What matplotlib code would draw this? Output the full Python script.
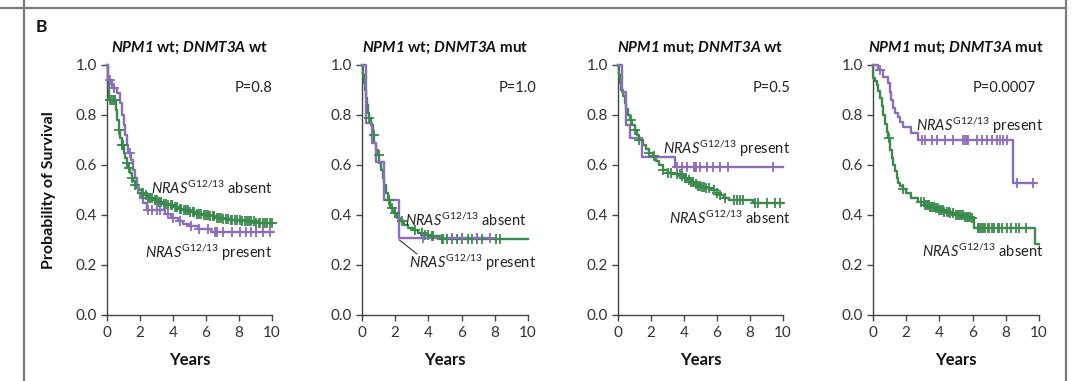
import matplotlib
matplotlib.use("Agg")
import matplotlib.pyplot as plt
from matplotlib.lines import Line2D
import numpy as np

plt.rcParams['font.family'] = ['Lato', 'DejaVu Sans']
plt.rcParams['mathtext.fontset'] = 'custom'
plt.rcParams['mathtext.rm'] = 'Lato'
plt.rcParams['mathtext.it'] = 'Lato:italic'
plt.rcParams['mathtext.bf'] = 'Lato:bold'
plt.rcParams['mathtext.bfit'] = 'Lato:italic:bold'

GREEN = '#3a8a4c'
PURPLE = '#8c6cbc'

titles = [r'$\mathbfit{NPM1}$ wt; $\mathbfit{DNMT3A}$ wt',
          r'$\mathbfit{NPM1}$ wt; $\mathbfit{DNMT3A}$ mut',
          r'$\mathbfit{NPM1}$ mut; $\mathbfit{DNMT3A}$ wt',
          r'$\mathbfit{NPM1}$ mut; $\mathbfit{DNMT3A}$ mut']
pvalues = ['P=0.8', 'P=1.0', 'P=0.5', 'P=0.0007']

# panel 1: NPM1 wt; DNMT3A wt
p1_abs_t = [0, 0.05, 0.1, 0.15, 0.55, 0.62, 0.7, 0.8, 0.9, 1.0, 1.1, 1.2, 1.3, 1.4, 1.5, 1.6, 1.7, 1.8,
            1.95, 2.1, 2.3, 2.5, 2.8, 3.1, 3.4, 3.7, 4.0, 4.3, 4.6, 5.0, 5.4, 5.8, 6.2, 6.6, 7.0, 7.5, 8.2, 9.0]
p1_abs_s = [1.0, 0.95, 0.9, 0.86, 0.82, 0.78, 0.74, 0.71, 0.68, 0.65, 0.63, 0.61, 0.59, 0.57, 0.55, 0.535, 0.52, 0.51,
            0.50, 0.49, 0.48, 0.47, 0.46, 0.452, 0.446, 0.44, 0.433, 0.426, 0.42, 0.413, 0.406, 0.40, 0.395, 0.39,
            0.385, 0.38, 0.376, 0.37]
p1_abs_c = [0.2, 0.3, 0.4, 0.5, 0.7, 0.9, 0.95, 1.2, 1.35, 1.5, 1.7, 2.1, 2.2, 2.35, 2.5, 2.6, 2.75, 2.9, 3.0,
            3.15, 3.3, 3.45, 3.55, 3.7, 3.85, 3.95, 4.1, 4.25, 4.4, 4.5, 4.65, 4.8, 4.9, 5.05, 5.2, 5.3, 5.45,
            5.6, 5.7, 5.85, 6.0, 6.1, 6.25, 6.4, 6.5, 6.65, 6.8, 6.9, 7.05, 7.2, 7.35, 7.5, 7.6, 7.75, 7.9,
            8.05, 8.2, 8.35, 8.5, 8.6, 8.75, 8.9, 9.05, 9.2, 9.3, 9.45, 9.6, 9.7, 9.85, 10.0]
p1_pre_t = [0, 0.05, 0.3, 0.6, 0.8, 0.9, 1.0, 1.1, 1.2, 1.3, 1.45, 1.6, 1.7, 1.8, 1.9, 2.0, 2.2, 2.4, 3.5,
            3.9, 4.3, 4.6, 5.0, 5.5, 6.3]
p1_pre_s = [1.0, 0.94, 0.91, 0.89, 0.85, 0.80, 0.76, 0.72, 0.68, 0.65, 0.62, 0.58, 0.55, 0.52, 0.49, 0.47,
            0.45, 0.42, 0.405, 0.39, 0.375, 0.365, 0.355, 0.345, 0.332]
p1_pre_c = [0.2, 0.45, 1.4, 2.5, 2.7, 3.0, 3.2, 3.7, 4.0, 4.4, 5.1, 5.6, 6.1, 6.55, 6.6, 6.65, 7.05, 7.55,
            8.05, 8.45, 8.75, 9.05, 9.45, 9.85]

# panel 2: NPM1 wt; DNMT3A mut
p2_abs_t = [0, 0.05, 0.1, 0.18, 0.25, 0.32, 0.38, 0.45, 0.55, 0.65, 0.75, 0.85, 0.95, 1.05, 1.15, 1.25, 1.35,
            1.45, 1.55, 1.7, 1.9, 2.1, 2.3, 2.55, 2.8, 3.1, 3.4, 3.8, 4.2, 4.7]
p2_abs_s = [1.0, 0.96, 0.93, 0.90, 0.87, 0.84, 0.81, 0.79, 0.76, 0.72, 0.69, 0.66, 0.64, 0.61, 0.58, 0.55,
            0.52, 0.49, 0.46, 0.43, 0.41, 0.39, 0.375, 0.36, 0.35, 0.34, 0.33, 0.322, 0.315, 0.305]
p2_abs_c = [0.45, 0.7, 1.0, 1.6, 1.8, 2.0, 2.4, 3.2, 3.6, 3.8, 4.0, 4.2, 4.3, 4.8, 4.9, 5.1, 5.4, 5.7, 6.0,
            6.4, 6.6, 6.9, 7.2, 8.1, 8.3]
p2_pre_t = [0, 0.24, 0.58, 0.82, 1.35, 2.2]
p2_pre_s = [1.0, 0.77, 0.69, 0.613, 0.46, 0.31]
p2_pre_c = [3.7, 5.4, 6.0, 6.9, 7.7]

# panel 3: NPM1 mut; DNMT3A wt
p3_abs_t = [0, 0.06, 0.12, 0.2, 0.3, 0.4, 0.5, 0.6, 0.7, 0.85, 1.0, 1.15, 1.3, 1.5, 1.7, 1.9, 2.1, 2.3, 2.5,
            2.7, 3.0, 3.4, 3.8, 4.0, 4.2, 4.4, 4.6, 4.8, 5.0, 5.3, 5.7, 6.0, 6.2, 6.4, 6.7, 8.2]
p3_abs_s = [1.0, 0.96, 0.93, 0.90, 0.875, 0.85, 0.825, 0.80, 0.78, 0.76, 0.74, 0.72, 0.70, 0.68, 0.665,
            0.65, 0.635, 0.615, 0.60, 0.58, 0.57, 0.565, 0.555, 0.548, 0.54, 0.533, 0.525, 0.518, 0.512,
            0.508, 0.50, 0.49, 0.48, 0.47, 0.462, 0.45]
p3_abs_c = [0.8, 1.0, 1.3, 1.9, 2.2, 2.7, 3.0, 3.2, 3.6, 3.75, 3.9, 4.05, 4.15, 4.3, 4.45, 4.55, 4.7, 4.85,
            4.95, 5.1, 5.2, 5.35, 5.5, 5.8, 6.0, 6.2, 6.5, 7.0, 7.2, 7.4, 7.6, 8.3, 8.5, 9.0, 9.5, 9.8]
p3_pre_t = [0, 0.22, 0.48, 0.73, 1.43, 3.45]
p3_pre_s = [1.0, 0.893, 0.76, 0.707, 0.633, 0.593]
p3_pre_c = [3.56, 3.86, 4.16, 4.62, 4.67, 4.72, 4.97, 5.37, 5.78, 6.18, 6.69, 9.41]

# panel 4: NPM1 mut; DNMT3A mut
p4_abs_t = [0, 0.02, 0.12, 0.22, 0.32, 0.42, 0.52, 0.62, 0.72, 0.82, 0.92, 1.02, 1.12, 1.22, 1.32, 1.42,
            1.52, 1.62, 1.8, 2.0, 2.3, 2.7, 3.1, 3.4, 3.7, 4.0, 4.3, 4.6, 4.9, 5.5, 5.9, 6.1, 9.76]
p4_abs_s = [1.0, 0.95, 0.935, 0.92, 0.895, 0.867, 0.835, 0.80, 0.765, 0.733, 0.71, 0.66, 0.63, 0.60, 0.575,
            0.547, 0.53, 0.515, 0.505, 0.49, 0.467, 0.453, 0.44, 0.433, 0.427, 0.42, 0.413, 0.407, 0.40,
            0.393, 0.387, 0.35, 0.285]
p4_abs_c = [0.95, 1.8, 2.9, 3.05, 3.15, 3.25, 3.35, 3.45, 3.55, 3.65, 3.8, 3.9, 4.0, 4.1, 4.2, 4.3, 4.45,
            4.55, 4.65, 4.8, 5.0, 5.1, 5.2, 5.3, 5.45, 5.55, 5.65, 5.75, 5.85, 5.95, 6.3, 6.4, 6.5, 6.65,
            6.75, 6.9, 7.0, 7.15, 7.3, 7.5, 7.6, 7.75, 8.1, 8.3, 8.6, 8.8, 9.2]
p4_pre_t = [0, 0.32, 0.62, 0.92, 1.0, 1.1, 1.2, 1.35, 1.5, 1.65, 1.8, 2.3, 2.7, 8.45]
p4_pre_s = [1.0, 0.98, 0.953, 0.927, 0.893, 0.86, 0.827, 0.81, 0.793, 0.773, 0.753, 0.727, 0.70, 0.527]
p4_pre_c = [0.45, 2.93, 3.13, 3.53, 3.84, 4.34, 4.84, 5.44, 5.54, 5.64, 5.74, 6.24, 6.55, 6.85, 7.15, 7.45,
            7.65, 7.85, 8.05, 8.65, 9.66]

ends_abs = [10, 10, 10, 10]
ends_pre = [10, 7.7, 10, 9.7]

absent = [(p1_abs_t, p1_abs_s, p1_abs_c), (p2_abs_t, p2_abs_s, p2_abs_c),
          (p3_abs_t, p3_abs_s, p3_abs_c), (p4_abs_t, p4_abs_s, p4_abs_c)]
present = [(p1_pre_t, p1_pre_s, p1_pre_c), (p2_pre_t, p2_pre_s, p2_pre_c),
           (p3_pre_t, p3_pre_s, p3_pre_c), (p4_pre_t, p4_pre_s, p4_pre_c)]

lbl_abs = r'$\mathit{NRAS}^{\mathrm{G12/13}}$ absent'
lbl_pre = r'$\mathit{NRAS}^{\mathrm{G12/13}}$ present'
# (x right edge, y) for labels: absent, present
lab_abs_pos = [(10, 0.505), (9.9, 0.38), (10.45, 0.385), (10.25, 0.255)]
lab_pre_pos = [(10, 0.25), (10.5, 0.21), (10.45, 0.665), (10.25, 0.755)]
p_pos = [(10, 0.91), (10.5, 0.91), (10.45, 0.91), (9.8, 0.91)]

lefts = [107, 362, 618, 873]
widths = [165, 166, 165, 166]

W, H = 1080, 381
fig = plt.figure(figsize=(W / 100, H / 100), dpi=100)


def draw_km(ax, t, s, c, end, color):
    tt = list(t) + [end]
    ss = list(s) + [s[-1]]
    ax.step(tt, ss, where='post', color=color, lw=1.7, clip_on=False, zorder=3)
    idx = np.searchsorted(np.array(t), np.array(c), side='right') - 1
    cy = np.array(s)[idx]
    ax.plot(c, cy, ls='none', marker='+', ms=7, mew=1.3, color=color, clip_on=False, zorder=4)


for i in range(4):
    ax = fig.add_axes([lefts[i] / W, 1 - 315 / H, widths[i] / W, 250 / H])
    draw_km(ax, *absent[i], ends_abs[i], GREEN)
    draw_km(ax, *present[i], ends_pre[i], PURPLE)
    ax.set_xlim(0, 10)
    ax.set_ylim(0, 1)
    ax.set_xticks([0, 2, 4, 6, 8, 10])
    ax.set_yticks([0, 0.2, 0.4, 0.6, 0.8, 1.0])
    ax.set_yticklabels(['0.0', '0.2', '0.4', '0.6', '0.8', '1.0'])
    for sp in ['top', 'right']:
        ax.spines[sp].set_visible(False)
    for sp in ['left', 'bottom']:
        ax.spines[sp].set_color('#444444')
        ax.spines[sp].set_linewidth(1.0)
    ax.tick_params(direction='out', length=4, width=1, color='#444444', labelsize=11,
                   labelcolor='#333333', pad=3)
    ax.tick_params(axis='x', pad=4)
    ax.text(0.5, (315 - 48) / 250, titles[i], transform=ax.transAxes, ha='center', va='center',
            fontsize=11, fontweight='bold', color='#111111')
    ax.text(0.5, (315 - 360) / 250, 'Years', transform=ax.transAxes, ha='center', va='center',
            fontsize=12, fontweight='bold', color='#111111')
    ax.text(p_pos[i][0], p_pos[i][1], pvalues[i], ha='right', va='center', fontsize=10.5, color='#222222')
    ax.text(lab_abs_pos[i][0], lab_abs_pos[i][1], lbl_abs, ha='right', va='center', fontsize=10.5,
            color='#222222')
    ax.text(lab_pre_pos[i][0], lab_pre_pos[i][1], lbl_pre, ha='right', va='center', fontsize=10.5,
            color='#222222')
    if i == 1:
        ax.plot([2.25, 3.3], [0.3, 0.245], color='#333333', lw=0.8, clip_on=False)

fig.text(49 / W, 1 - 190 / H, 'Probability of Survival', rotation=90, ha='center', va='center',
         fontsize=11.5, fontweight='bold', color='#111111')
fig.text(36 / W, 1 - 27 / H, 'B', ha='left', va='center', fontsize=12.5, fontweight='bold', color='#111111')

# frame lines
fig.add_artist(Line2D([0, 1066 / W], [1 - 8 / H, 1 - 8 / H], transform=fig.transFigure, color='#7a7a7a', lw=1.6))
fig.add_artist(Line2D([24 / W, 24 / W], [0, 1], transform=fig.transFigure, color='#7a7a7a', lw=1.6))
fig.add_artist(Line2D([1066 / W, 1066 / W], [0, 1], transform=fig.transFigure, color='#7a7a7a', lw=1.6))

fig.savefig('out.png', dpi=100)
